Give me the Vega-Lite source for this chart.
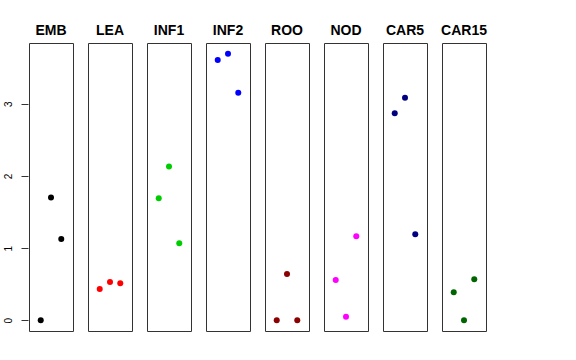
{
  "$schema": "https://vega.github.io/schema/vega-lite/v6.json",
  "padding": {"left": 3, "top": 24, "right": 5, "bottom": 5},
  "background": "white",
  "data": {"values": [
    {"group": "EMB", "pos": 1, "value": 0.0},
    {"group": "EMB", "pos": 2, "value": 1.70},
    {"group": "EMB", "pos": 3, "value": 1.126},
    {"group": "LEA", "pos": 1, "value": 0.434},
    {"group": "LEA", "pos": 2, "value": 0.53},
    {"group": "LEA", "pos": 3, "value": 0.512},
    {"group": "INF1", "pos": 1, "value": 1.69},
    {"group": "INF1", "pos": 2, "value": 2.13},
    {"group": "INF1", "pos": 3, "value": 1.066},
    {"group": "INF2", "pos": 1, "value": 3.605},
    {"group": "INF2", "pos": 2, "value": 3.69},
    {"group": "INF2", "pos": 3, "value": 3.15},
    {"group": "ROO", "pos": 1, "value": 0.0},
    {"group": "ROO", "pos": 2, "value": 0.641},
    {"group": "ROO", "pos": 3, "value": 0.0},
    {"group": "NOD", "pos": 1, "value": 0.558},
    {"group": "NOD", "pos": 2, "value": 0.05},
    {"group": "NOD", "pos": 3, "value": 1.163},
    {"group": "CAR5", "pos": 1, "value": 2.867},
    {"group": "CAR5", "pos": 2, "value": 3.083},
    {"group": "CAR5", "pos": 3, "value": 1.19},
    {"group": "CAR15", "pos": 1, "value": 0.388},
    {"group": "CAR15", "pos": 2, "value": 0.0},
    {"group": "CAR15", "pos": 3, "value": 0.568}
  ]},
  "facet": {
    "column": {
      "field": "group", "type": "nominal",
      "sort": ["EMB", "LEA", "INF1", "INF2", "ROO", "NOD", "CAR5", "CAR15"],
      "header": {"title": null, "labelFont": "Liberation Sans", "labelFontWeight": "bold", "labelFontSize": 14, "labelColor": "black", "labelPadding": 4}
    }
  },
  "spacing": 13,
  "spec": {
    "width": 44,
    "height": 288,
    "mark": {"type": "circle", "size": 36, "opacity": 1},
    "encoding": {
      "x": {"field": "pos", "type": "quantitative", "scale": {"domain": [-0.14, 4.14], "nice": false, "zero": false}, "axis": null},
      "y": {"field": "value", "type": "quantitative", "scale": {"domain": [-0.148, 3.84], "nice": false, "zero": false},
        "axis": {"title": null, "values": [0, 1, 2, 3], "grid": false, "domain": false, "tickSize": 7, "tickColor": "#333", "labelFont": "Liberation Sans", "labelFontSize": 10, "labelColor": "black", "labelAngle": -90, "labelAlign": "center", "labelBaseline": "bottom", "labelPadding": 8}},
      "color": {"field": "group", "type": "nominal", "legend": null,
        "scale": {"domain": ["EMB", "LEA", "INF1", "INF2", "ROO", "NOD", "CAR5", "CAR15"],
                  "range": ["#000000", "#FF0000", "#00CD00", "#0000FF", "#8B0000", "#FF00FF", "#000080", "#006400"]}}
    }
  },
  "config": {"view": {"stroke": "#333", "strokeWidth": 1}}
}
